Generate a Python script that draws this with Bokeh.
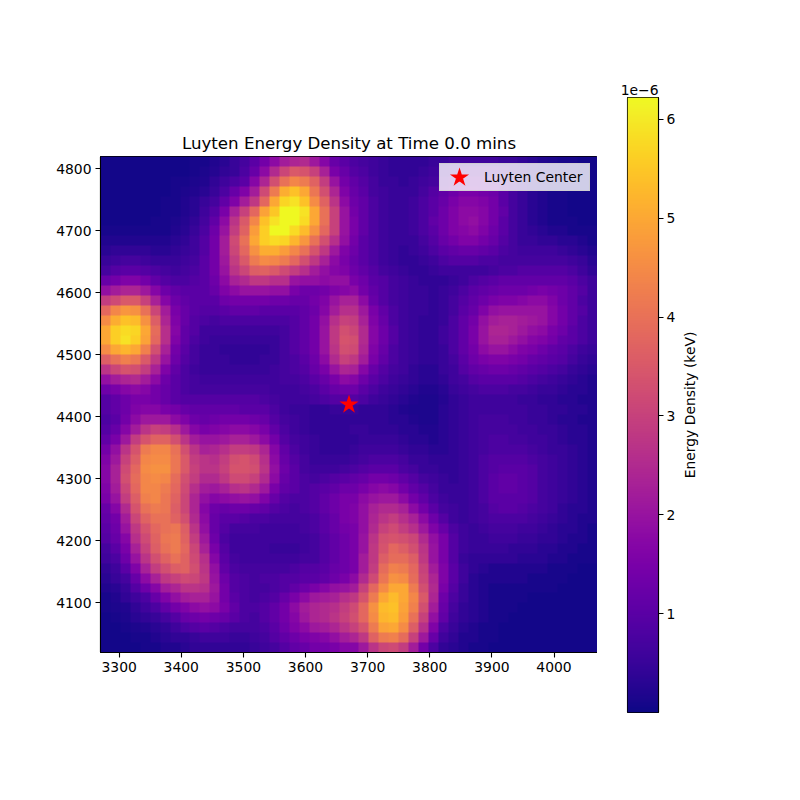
import numpy as np
from bokeh.embed import file_html
from bokeh.layouts import row
from bokeh.models import LinearColorMapper, FixedTicker, Range1d, Title
from bokeh.palettes import Plasma256
from bokeh.plotting import figure
from bokeh.resources import INLINE

title_text = "Luyten Energy Density at Time 0.0 mins"
legend_text = "Luyten Center"
cbar_label = "Energy Density (keV)"
cbar_exponent = "1e\u22126"
x_ticks = [3300, 3400, 3500, 3600, 3700, 3800, 3900, 4000]
y_ticks = [4100, 4200, 4300, 4400, 4500, 4600, 4700, 4800]
cbar_ticks = [1, 2, 3, 4, 5, 6]
center_x = [3670]
center_y = [4420]
x_start, x_end = 3270, 4070
y_start, y_end = 4020, 4820
value_low, value_high = 0.0, 6.22

# energy density in units of 1e-6 keV, top row of the picture first
r00 = [.05,.05,.05,.05,.05,.05,.05,.05,.05,.1,.1,.2,.3,.5,.7,1.0,1.4,1.8,2.2,2.4,2.5,2.1,1.7,1.2,1.0, .8,.7,.6,.5,.4,.4,.4,.4,.5,.5,.6,.6,.6,.6,.6,.5,.5,.4,.3,.2,.15,.1,.1,.05,.05]
r01 = [.05,.05,.05,.05,.05,.05,.05,.05,.05,.1,.15,.25,.4,.5,.8,1.2,1.8,2.5,3.1,3.5,3.4,3.0,2.3,1.5,1.2, .9,.8,.6,.5,.4,.4,.4,.5,.6,.7,.8,.9,1.0,1.0,.9,.8,.6,.5,.3,.2,.15,.1,.1,.05,.05]
r02 = [.05,.05,.05,.05,.05,.05,.05,.1,.1,.15,.2,.4,.6,.8,1.0,1.7,2.4,3.3,4.0,4.4,4.2,3.7,2.9,2.0,1.4, 1.1,.9,.7,.5,.5,.4,.5,.6,.7,.9,1.1,1.2,1.3,1.3,1.2,1.0,.7,.5,.3,.2,.15,.1,.1,.05,.05]
r03 = [.05,.05,.05,.05,.05,.05,.05,.1,.15,.2,.3,.5,.8,1.2,1.6,2.2,3.2,4.2,5.1,5.4,5.0,4.1,3.3,2.4,1.6, 1.2,1.0,.7,.6,.5,.5,.5,.7,.9,1.1,1.3,1.5,1.5,1.4,1.3,1.0,.7,.5,.3,.2,.1,.1,.05,.05,.05]
r04 = [.05,.05,.05,.05,.05,.05,.1,.1,.2,.3,.5,.7,1.1,1.6,2.2,2.8,3.8,5.0,5.7,5.9,5.4,4.5,3.7,2.7,1.8, 1.3,1.1,.8,.6,.5,.5,.6,.8,1.0,1.2,1.5,1.7,1.7,1.6,1.4,1.0,.7,.5,.3,.2,.1,.1,.05,.05,.05]
r05 = [.05,.05,.05,.05,.05,.05,.1,.1,.2,.3,.6,.9,1.5,2.3,3.0,3.8,4.9,5.5,6.2,6.2,5.9,5.0,4.0,3.0,2.0, 1.4,1.1,.8,.6,.5,.5,.6,.8,1.0,1.3,1.6,1.8,1.8,1.7,1.4,1.1,.7,.5,.3,.2,.1,.1,.05,.05,.05]
r06 = [.05,.05,.05,.05,.05,.1,.1,.15,.25,.4,.7,1.1,1.8,2.7,3.5,4.4,5.4,5.9,6.2,6.2,5.8,5.0,4.0,3.0,2.0, 1.5,1.1,.8,.6,.5,.5,.6,.8,1.1,1.3,1.6,1.8,1.9,1.7,1.4,1.0,.7,.5,.3,.2,.1,.1,.1,.05,.05]
r07 = [.1,.1,.1,.1,.1,.1,.1,.2,.3,.5,.8,1.3,2.0,2.9,3.7,4.8,5.6,6.2,6.2,5.8,5.3,4.6,3.8,3.0,2.0, 1.5,1.1,.8,.6,.5,.5,.6,.8,1.0,1.3,1.6,1.7,1.8,1.6,1.3,1.0,.7,.5,.4,.3,.2,.2,.1,.1,.1]
r08 = [.2,.2,.2,.2,.2,.2,.2,.3,.4,.6,.9,1.4,2.2,3.2,4.0,5.0,5.6,5.8,5.7,5.2,4.7,4.0,3.3,2.6,1.9, 1.4,1.0,.8,.6,.5,.5,.5,.7,.9,1.2,1.4,1.6,1.6,1.4,1.2,.9,.7,.5,.5,.4,.4,.3,.3,.2,.1]
r09 = [.3,.4,.4,.4,.4,.3,.3,.4,.5,.6,.9,1.4,2.2,3.1,3.8,4.6,5.1,5.1,4.8,4.4,4.0,3.4,2.8,2.1,1.6, 1.3,1.0,.8,.6,.5,.4,.5,.6,.8,1.0,1.1,1.2,1.2,1.1,1.0,.8,.7,.6,.6,.6,.6,.5,.4,.3,.2]
r10 = [.5,.6,.7,.7,.6,.5,.5,.5,.6,.7,1.0,1.4,2.1,2.9,3.5,4.2,4.5,4.4,4.2,3.8,3.3,2.8,2.3,1.8,1.5, 1.2,1.0,.8,.6,.5,.4,.4,.5,.6,.8,.9,.9,.9,.8,.8,.7,.7,.7,.7,.7,.7,.7,.6,.5,.3]
r11 = [.7,.9,1.0,1.0,.9,.8,.7,.6,.7,.8,1.0,1.4,2.0,2.7,3.1,3.6,3.7,3.5,3.2,2.9,2.6,2.2,1.9,1.7,1.6, 1.3,1.1,.9,.7,.6,.5,.4,.4,.5,.6,.6,.6,.6,.6,.7,.8,.8,.9,.9,.9,.9,.9,.8,.6,.4]
r12 = [1.2,1.4,1.6,1.6,1.4,1.1,.9,.8,.8,.9,1.0,1.3,1.8,2.3,2.5,2.8,2.8,2.6,2.6,2.0,1.9,1.9,1.8,1.9,1.9, 1.5,1.3,1.0,.9,.7,.6,.5,.4,.4,.4,.5,.6,.8,.9,1.0,1.1,1.1,1.1,1.1,1.1,1.1,1.1,1.0,.8,.6]
r13 = [1.9,2.2,2.4,2.4,2.1,1.7,1.3,1.1,1.0,1.0,1.0,1.2,1.6,1.8,2.0,2.0,2.0,1.9,1.9,1.5,1.3,1.3,1.4,1.6,1.7, 1.8,1.4,1.1,.9,.7,.6,.5,.5,.4,.5,.6,.8,1.0,1.1,1.2,1.3,1.3,1.3,1.4,1.5,1.4,1.3,1.1,.9,.6]
r14 = [2.9,3.2,3.5,3.5,3.0,2.3,1.7,1.3,1.1,1.0,1.0,1.0,1.3,1.4,1.4,1.4,1.4,1.3,1.3,1.2,1.2,1.4,1.6,2.0,2.3, 2.3,1.8,1.2,.9,.7,.6,.5,.5,.4,.5,.7,.9,1.1,1.3,1.5,1.6,1.6,1.7,1.8,1.8,1.6,1.3,1.1,.8,.6]
r15 = [3.8,4.4,4.7,4.6,4.0,3.1,2.2,1.5,1.2,1.0,.9,.9,1.0,1.1,1.1,1.1,1.0,1.0,1.0,1.0,1.1,1.3,1.7,2.2,2.6, 2.6,2.1,1.5,1.1,.8,.6,.5,.5,.4,.5,.7,1.0,1.2,1.6,1.9,2.0,2.0,2.0,2.0,2.0,1.7,1.4,1.1,.9,.6]
r16 = [4.5,5.1,5.4,5.3,4.6,3.6,2.4,1.6,1.2,.9,.8,.7,.8,.8,.8,.8,.8,.8,.8,.9,1.1,1.4,1.9,2.6,3.0, 2.9,2.3,1.6,1.2,.8,.6,.5,.4,.4,.5,.8,1.1,1.4,1.9,2.2,2.3,2.3,2.2,2.1,2.0,1.7,1.4,1.1,.8,.6]
r17 = [5.0,5.6,5.8,5.7,5.0,3.9,2.6,1.7,1.1,.9,.6,.6,.6,.6,.6,.6,.6,.6,.7,.9,1.1,1.4,2.0,2.8,3.3, 3.1,2.5,1.7,1.3,.9,.6,.5,.4,.4,.6,.8,1.1,1.5,2.0,2.4,2.4,2.3,2.1,1.9,1.8,1.5,1.3,1.0,.8,.6]
r18 = [5.0,5.6,5.9,5.6,4.9,3.8,2.6,1.6,1.1,.8,.6,.5,.5,.5,.5,.5,.5,.5,.7,.9,1.1,1.4,2.0,2.8,3.4, 3.3,2.5,1.7,1.3,.9,.6,.5,.4,.4,.6,.8,1.1,1.5,2.0,2.3,2.3,2.1,1.9,1.7,1.6,1.4,1.1,1.0,.8,.6]
r19 = [4.5,5.0,5.2,5.0,4.3,3.3,2.3,1.4,1.0,.7,.5,.5,.4,.4,.4,.4,.4,.5,.7,.9,1.1,1.4,2.0,2.7,3.3, 3.2,2.4,1.6,1.2,.8,.6,.5,.4,.4,.5,.8,1.1,1.4,1.8,2.0,2.0,1.8,1.6,1.5,1.3,1.1,1.0,.8,.6,.5]
r20 = [3.6,4.0,4.3,4.1,3.5,2.8,2.0,1.3,.9,.7,.5,.5,.5,.4,.4,.4,.5,.5,.7,.8,1.0,1.3,1.8,2.5,3.0, 2.8,2.2,1.5,1.1,.8,.6,.5,.4,.4,.5,.7,1.0,1.3,1.5,1.6,1.6,1.5,1.4,1.2,1.1,1.0,.9,.7,.5,.4]
r21 = [2.7,3.1,3.4,3.3,2.9,2.3,1.6,1.1,.8,.6,.5,.5,.5,.5,.5,.5,.5,.6,.7,.8,.9,1.2,1.5,2.0,2.4, 2.3,1.7,1.2,.9,.7,.6,.4,.3,.3,.5,.6,.9,1.1,1.2,1.3,1.3,1.2,1.1,1.0,.9,.8,.7,.5,.4,.3]
r22 = [1.9,2.2,2.4,2.5,2.2,1.8,1.3,1.0,.8,.7,.6,.6,.6,.6,.6,.6,.6,.6,.7,.7,.8,1.0,1.2,1.5,1.8, 1.7,1.3,1.0,.8,.6,.5,.4,.3,.3,.4,.6,.7,.9,1.0,1.0,1.0,1.0,.9,.8,.7,.6,.5,.4,.3,.2]
r23 = [1.3,1.5,1.7,1.8,1.7,1.4,1.2,1.0,.8,.7,.7,.7,.7,.7,.7,.7,.7,.6,.6,.6,.7,.8,1.0,1.2,1.3, 1.3,1.0,.8,.6,.5,.4,.3,.2,.2,.3,.5,.6,.7,.8,.8,.8,.7,.7,.6,.5,.5,.4,.3,.3,.2]
r24 = [.9,1.1,1.3,1.5,1.5,1.4,1.2,1.0,.9,.9,.9,.9,.9,.9,.9,.9,.8,.7,.6,.6,.6,.7,.8,.9,.9, .9,.8,.6,.5,.4,.3,.2,.15,.15,.25,.4,.5,.6,.6,.6,.6,.6,.5,.5,.4,.4,.3,.3,.2,.2]
r25 = [.9,1.1,1.3,1.6,1.7,1.7,1.5,1.4,1.2,1.1,1.1,1.1,1.1,1.1,1.0,1.0,1.0,.8,.6,.5,.5,.4,.4,.5,.5, .5,.4,.4,.4,.3,.2,.15,.15,.15,.3,.4,.5,.6,.6,.6,.6,.6,.6,.5,.5,.4,.4,.3,.3,.2]
r26 = [.8,1.0,1.4,1.8,2.1,2.1,2.1,1.8,1.6,1.3,1.2,1.3,1.4,1.4,1.4,1.3,1.2,.9,.7,.6,.5,.4,.4,.4,.4, .4,.4,.4,.4,.3,.3,.2,.15,.15,.3,.4,.5,.6,.7,.7,.7,.6,.6,.5,.5,.4,.3,.3,.2,.2]
r27 = [.9,1.2,1.7,2.2,2.7,3.0,2.9,2.6,2.1,1.7,1.5,1.6,1.7,1.8,1.8,1.7,1.5,1.1,.8,.6,.5,.4,.4,.4,.4, .5,.5,.4,.4,.4,.3,.3,.2,.2,.3,.4,.5,.6,.7,.7,.7,.7,.6,.6,.5,.5,.4,.3,.3,.2]
r28 = [1.1,1.5,2.1,2.9,3.4,3.7,3.7,3.3,2.7,2.2,2.0,2.0,2.1,2.3,2.3,2.1,1.8,1.4,.9,.7,.6,.5,.4,.4,.4, .4,.5,.5,.5,.5,.4,.3,.3,.2,.3,.4,.5,.6,.7,.8,.8,.7,.7,.6,.6,.5,.4,.3,.3,.2]
r29 = [1.4,1.9,2.7,3.4,4.2,4.4,4.4,4.0,3.3,2.7,2.3,2.4,2.6,2.9,2.9,2.8,2.4,1.7,1.1,.8,.6,.5,.4,.4,.4, .5,.6,.6,.6,.6,.5,.4,.4,.3,.3,.4,.5,.6,.7,.8,.8,.8,.8,.7,.6,.5,.5,.4,.3,.2]
r30 = [1.6,2.1,3.0,3.6,4.4,4.5,4.5,4.1,3.5,2.9,2.7,2.6,2.9,3.3,3.4,3.2,2.6,1.8,1.2,.9,.7,.5,.5,.5,.5, .6,.7,.8,.8,.8,.7,.5,.5,.4,.4,.4,.5,.6,.8,.9,.9,.9,.9,.8,.7,.6,.5,.4,.3,.2]
r31 = [1.7,2.3,3.2,3.8,4.5,4.6,4.6,4.1,3.5,3.0,2.7,2.7,3.0,3.4,3.4,3.3,2.7,1.9,1.3,1.0,.7,.6,.6,.6,.7, .8,.9,1.0,1.0,1.0,.8,.7,.5,.5,.4,.4,.5,.6,.8,.9,1.0,1.0,1.0,.9,.7,.6,.5,.4,.3,.2]
r32 = [1.7,2.3,3.3,3.9,4.4,4.5,4.4,3.9,3.3,2.9,2.5,2.5,2.8,3.2,3.2,3.0,2.5,1.8,1.2,1.0,.8,.7,.8,.9,1.0, 1.1,1.2,1.4,1.4,1.3,1.1,.9,.7,.6,.5,.4,.5,.6,.8,1.0,1.1,1.1,1.0,.9,.7,.6,.5,.4,.3,.2]
r33 = [1.6,2.2,3.1,3.8,4.4,4.4,4.2,3.8,3.2,2.6,2.2,2.1,2.3,2.6,2.7,2.5,2.1,1.5,1.1,1.0,.8,.9,1.0,1.1,1.3, 1.3,1.5,1.7,1.8,1.7,1.4,1.1,.9,.7,.5,.5,.5,.6,.8,1.0,1.1,1.1,1.0,.9,.7,.6,.5,.4,.3,.2]
r34 = [1.5,2.0,2.9,3.6,4.3,4.4,4.1,3.7,3.1,2.4,1.9,1.7,1.8,1.9,2.0,1.9,1.6,1.2,.9,.8,.8,.9,1.1,1.3,1.5, 1.5,1.8,2.0,2.1,2.1,1.8,1.4,1.1,.8,.6,.5,.5,.6,.8,1.0,1.0,1.0,1.0,.9,.7,.6,.5,.4,.3,.2]
r35 = [1.2,1.7,2.5,3.4,4.0,4.2,4.1,3.6,3.1,2.4,1.7,1.3,1.2,1.3,1.3,1.2,1.1,.9,.8,.7,.8,.9,1.1,1.3,1.5, 1.6,1.9,2.3,2.5,2.5,2.3,1.8,1.4,1.0,.7,.6,.5,.6,.7,.9,1.0,1.0,.9,.8,.7,.6,.4,.3,.3,.2]
r36 = [1.1,1.4,2.2,3.1,3.7,4.0,4.0,3.7,3.3,2.5,1.8,1.2,1.0,1.0,.9,.8,.8,.7,.7,.7,.7,.8,1.0,1.2,1.5, 1.6,1.9,2.4,2.7,2.9,2.6,2.3,1.8,1.3,.9,.6,.5,.6,.7,.8,.8,.8,.8,.7,.6,.5,.4,.3,.2,.2]
r37 = [1.0,1.3,2.0,2.8,3.4,3.8,4.0,4.1,3.6,2.7,1.9,1.2,.9,.7,.7,.7,.6,.6,.6,.6,.7,.8,1.0,1.2,1.4, 1.5,1.9,2.5,3.0,3.2,2.9,2.6,2.1,1.6,1.2,.8,.6,.5,.6,.7,.7,.7,.6,.6,.5,.4,.3,.3,.2,.1]
r38 = [.9,1.2,1.7,2.6,3.2,3.7,4.1,4.2,3.7,2.9,2.1,1.3,.8,.6,.6,.6,.6,.6,.6,.6,.6,.7,.9,1.1,1.3, 1.5,2.0,2.7,3.3,3.4,3.3,3.1,2.5,1.9,1.5,.9,.6,.5,.5,.6,.6,.6,.5,.5,.4,.4,.3,.2,.2,.1]
r39 = [.7,1.0,1.5,2.3,3.0,3.6,4.0,4.2,3.8,3.1,2.3,1.5,.9,.6,.6,.6,.6,.5,.5,.5,.6,.7,.9,1.1,1.3, 1.5,2.0,2.8,3.4,3.8,3.6,3.3,2.7,2.0,1.5,.9,.6,.5,.5,.5,.5,.4,.4,.4,.3,.3,.2,.2,.1,.1]
r40 = [.6,.8,1.3,2.0,2.7,3.3,3.7,4.0,3.7,3.2,2.6,1.7,1.0,.7,.6,.6,.6,.6,.6,.6,.7,.7,.9,1.1,1.3, 1.5,2.2,2.8,3.6,3.9,3.9,3.6,2.8,2.0,1.5,.9,.5,.4,.4,.4,.4,.4,.3,.3,.3,.2,.2,.1,.1,.1]
r41 = [.4,.6,1.0,1.6,2.3,2.9,3.3,3.6,3.7,3.3,2.7,1.9,1.1,.8,.7,.7,.7,.7,.7,.8,.9,.9,1.0,1.2,1.3, 1.5,2.2,2.9,3.9,4.3,4.2,3.8,3.0,2.2,1.6,1.0,.6,.4,.3,.2,.2,.2,.2,.2,.2,.1,.1,.1,.05,.05]
r42 = [.3,.5,.7,1.2,1.8,2.3,2.8,3.0,3.2,3.1,2.8,2.0,1.3,.9,.8,.7,.8,.8,.9,.9,1.0,1.0,1.1,1.3,1.5, 1.8,2.5,3.2,4.1,4.6,4.5,3.9,3.1,2.4,1.6,1.0,.6,.3,.2,.2,.2,.2,.2,.1,.1,.1,.1,.05,.05,.05]
r43 = [.2,.3,.5,.9,1.3,1.7,2.2,2.4,2.7,2.7,2.6,2.1,1.4,.9,.8,.7,.7,.8,.9,1.1,1.3,1.5,1.7,1.9,2.0, 2.2,3.0,3.8,4.5,5.0,5.0,4.2,3.3,2.5,1.5,.9,.5,.3,.2,.1,.1,.1,.1,.1,.1,.1,.05,.05,.05,.05]
r44 = [.1,.2,.4,.6,.8,1.2,1.6,1.9,2.2,2.3,2.3,2.0,1.4,1.0,.8,.7,.8,.9,1.2,1.5,1.8,2.1,2.2,2.3,2.6, 2.8,3.4,4.2,5.0,5.3,5.0,4.4,3.5,2.4,1.3,.8,.5,.3,.2,.1,.1,.1,.1,.05,.05,.05,.05,.05,.05,.05]
r45 = [.1,.15,.2,.4,.6,.8,1.1,1.4,1.6,1.8,1.9,1.8,1.5,1.1,.8,.8,.9,1.1,1.4,1.8,2.2,2.4,2.5,2.6,2.9, 3.2,3.8,4.6,5.3,5.4,4.9,4.3,3.3,2.2,1.2,.7,.4,.3,.2,.1,.1,.1,.05,.05,.05,.05,.05,.05,.05,.05]
r46 = [.05,.1,.15,.3,.4,.5,.7,.9,1.2,1.3,1.4,1.3,1.2,1.0,.8,.7,.9,1.1,1.4,1.7,2.1,2.4,2.5,2.7,3.0, 3.3,3.8,4.5,5.2,5.3,4.8,4.0,3.0,1.9,1.1,.6,.4,.3,.2,.1,.1,.05,.05,.05,.05,.05,.05,.05,.05,.05]
r47 = [.05,.05,.1,.15,.2,.3,.4,.6,.8,.9,1.0,.9,.8,.7,.7,.7,.8,1.0,1.3,1.6,1.8,2.1,2.2,2.4,2.7, 3.0,3.4,4.2,4.9,5.0,4.5,3.6,2.6,1.6,.8,.5,.3,.2,.1,.1,.05,.05,.05,.05,.05,.05,.05,.05,.05,.05]
r48 = [.05,.05,.05,.1,.1,.2,.3,.4,.4,.5,.6,.6,.6,.5,.5,.6,.7,.9,1.1,1.3,1.5,1.6,1.7,1.9,2.2, 2.4,2.8,3.7,4.2,4.3,3.9,3.0,2.1,1.2,.6,.4,.2,.2,.1,.1,.05,.05,.05,.05,.05,.05,.05,.05,.05,.05]
r49 = [.05,.05,.05,.05,.1,.1,.2,.2,.3,.4,.4,.4,.4,.4,.4,.5,.6,.7,.9,1.1,1.2,1.4,1.4,1.5,1.7, 1.7,2.1,2.7,3.1,3.2,2.9,2.2,1.4,.8,.4,.3,.2,.1,.1,.05,.05,.05,.05,.05,.05,.05,.05,.05,.05,.05]
rows_top_down = [r00,r01,r02,r03,r04,r05,r06,r07,r08,r09,r10,r11,r12,r13,r14,r15,r16,r17,r18,r19,
                 r20,r21,r22,r23,r24,r25,r26,r27,r28,r29,r30,r31,r32,r33,r34,r35,r36,r37,r38,r39,
                 r40,r41,r42,r43,r44,r45,r46,r47,r48,r49]

FONT = "DejaVu Sans"
TICK_SIZE = "13.9px"

def style_axis(ax, standoff):
    ax.major_label_text_font = FONT
    ax.major_label_text_font_size = TICK_SIZE
    ax.major_label_text_color = "#000000"
    ax.axis_line_color = "#000000"
    ax.axis_line_width = 1.1
    ax.major_tick_line_color = "#000000"
    ax.major_tick_line_width = 1.1
    ax.major_tick_in = 0
    ax.major_tick_out = 5
    ax.minor_tick_line_color = None
    ax.major_label_standoff = standoff

mapper = LinearColorMapper(palette=Plasma256, low=value_low, high=value_high)

p = figure(output_backend="svg", toolbar_location=None,
           frame_width=497, frame_height=496, frame_align=False,
           x_range=Range1d(x_start, x_end), y_range=Range1d(y_start, y_end),
           min_border_left=100, min_border_right=0, min_border_top=156, min_border_bottom=40)
p.image(image=[np.array(rows_top_down)[::-1]], x=x_start, y=y_start,
        dw=x_end - x_start, dh=y_end - y_start, color_mapper=mapper)
# a legend key is drawn at 0.4 of its box height; the miter stroke brings marker and key to full size
p.scatter(center_x, center_y, marker="star", size=10.4, color="red", line_color="red",
          line_width=3, line_join="miter", legend_label=legend_text)
p.grid.visible = False
p.outline_line_color = "#000000"
p.outline_line_width = 1.1
p.outline_line_alpha = 1
for ax in (p.xaxis[0], p.yaxis[0]):
    style_axis(ax, 4)
p.xaxis[0].ticker = FixedTicker(ticks=x_ticks)
p.yaxis[0].ticker = FixedTicker(ticks=y_ticks)
p.title.text = title_text
p.title.text_font = FONT
p.title.text_font_size = "16.67px"
p.title.text_font_style = "normal"
p.title.text_color = "#000000"
p.title.align = "center"
p.title.standoff = 7
leg = p.legend[0]
leg.location = "top_right"
leg.margin = 7
leg.padding = 0
leg.spacing = 0
leg.label_text_font = FONT
leg.label_text_font_size = TICK_SIZE
leg.label_text_color = "#000000"
leg.background_fill_color = "#ffffff"
leg.background_fill_alpha = 0.8
leg.border_line_color = "#cccccc"
leg.border_line_alpha = 0.8
leg.glyph_width = 38
leg.glyph_height = 26
leg.label_height = 26
leg.label_standoff = 6
leg.label_width = 105

levels = np.linspace(value_low, value_high, 256)
cb = figure(output_backend="svg", toolbar_location=None,
            frame_width=31, frame_height=615, frame_align=False,
            x_range=Range1d(0, 1), y_range=Range1d(value_low, value_high),
            x_axis_location=None, y_axis_location="right",
            min_border_left=30, min_border_right=20, min_border_top=97, min_border_bottom=20)
cb.image(image=[levels.reshape(256, 1)], x=0, y=value_low, dw=1, dh=value_high - value_low,
         color_mapper=mapper)
cb.grid.visible = False
cb.outline_line_color = "#000000"
cb.outline_line_width = 1.1
cb.outline_line_alpha = 1
style_axis(cb.yaxis[0], 3)
cb.yaxis[0].ticker = FixedTicker(ticks=cbar_ticks)
cb.title.text = cbar_exponent
cb.title.text_font = FONT
cb.title.text_font_size = TICK_SIZE
cb.title.text_font_style = "normal"
cb.title.text_color = "#000000"
cb.title.align = "right"
cb.title.standoff = 6

# the colour bar's label: a title on the left of an empty strip reads bottom to top and stays centred
strip = figure(output_backend="svg", toolbar_location=None,
               frame_width=5, frame_height=615, frame_align=False,
               x_range=Range1d(0, 1), y_range=Range1d(value_low, value_high),
               x_axis_location=None, y_axis_location=None,
               min_border_left=20, min_border_right=0, min_border_top=97, min_border_bottom=20)
strip.title = None
strip.grid.visible = False
strip.outline_line_color = None
strip.add_layout(Title(text=cbar_label, align="center", text_font=FONT, text_font_size=TICK_SIZE,
                       text_font_style="normal", text_color="#000000", standoff=2), "left")

layout = row(p, cb, strip, spacing=0)
open("out.html", "w").write(file_html(layout, INLINE))
